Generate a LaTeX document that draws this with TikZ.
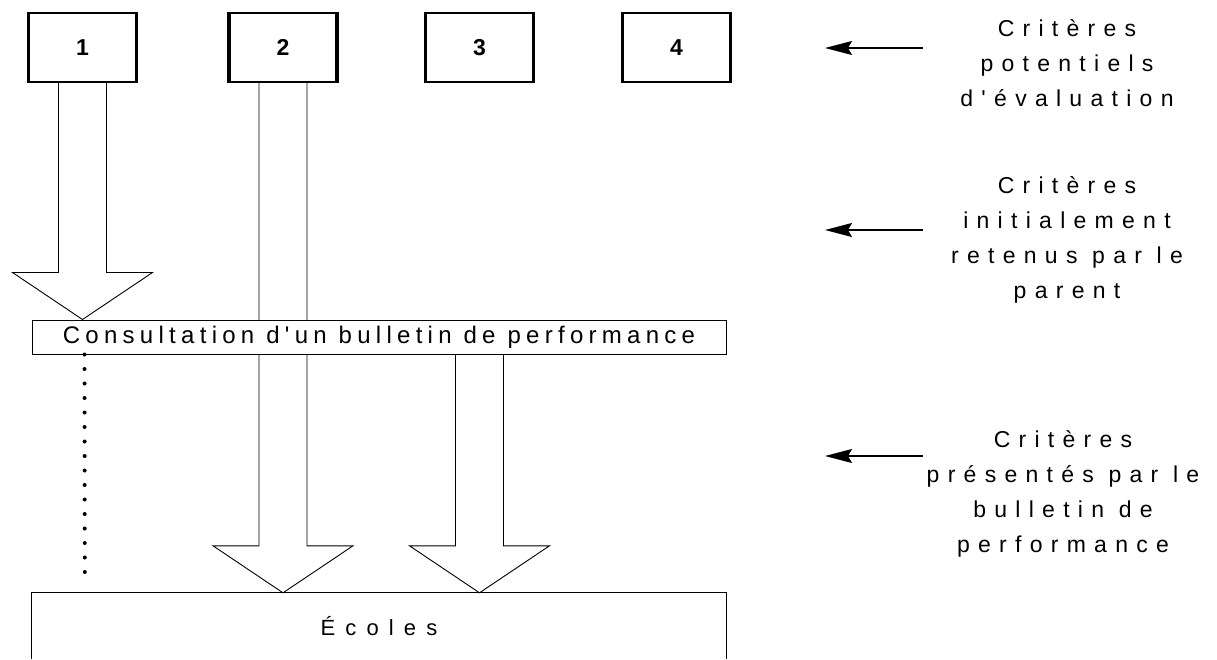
\documentclass[tikz,border=0pt]{standalone}
\usepackage{fontspec}
\setmainfont{Liberation Sans}
\newfontfamily\lblfont[LetterSpace=36]{Liberation Sans}
\newfontfamily\consfont[LetterSpace=22]{Liberation Sans}
\newfontfamily\ecfont[LetterSpace=46]{Liberation Sans}
\usetikzlibrary{arrows.meta,calc}
\newcommand\blockarr[2]{%
  \draw[blockline] let \p1=(#1), \p2=(#2) in
    (\x1-24pt,\y1) -- (\x1-24pt,\y2+47pt) -- (\x1-70pt,\y2+47pt) -- (\x2,\y2)
    -- (\x1+70pt,\y2+47pt) -- (\x1+24pt,\y2+47pt) -- (\x1+24pt,\y1);}
\begin{document}
\begin{tikzpicture}[x=1pt,y=-1pt,
  numbox/.style={draw, line width=1.1pt, minimum width=107pt, minimum height=69pt,
    inner sep=0pt, font=\fontsize{23}{23}\selectfont\bfseries},
  thickside/.style={line width=3.5pt},
  blockline/.style={line width=0.9pt, line join=miter},
  consbox/.style={draw, fill=white, line width=1pt, minimum width=694pt, minimum height=34pt,
    inner sep=0pt, text height=17pt, text depth=4pt, font=\consfont\fontsize{24}{24}\selectfont},
  ecbox/.style={minimum width=694pt, minimum height=66pt, inner sep=0pt,
    font=\ecfont\fontsize{22}{22}\selectfont},
  lbl/.style={align=center, inner sep=0pt, anchor=north,
    font=\lblfont\fontsize{23}{35}\selectfont},
  ptr/.style={line width=1.6pt, -{Stealth[length=27pt,width=14pt,inset=4pt]}},
  dotline/.style={line width=4pt, line cap=round, dash pattern=on 0pt off 14.5pt}
]
\useasboundingbox (0,0) rectangle (1217,659);

% top boxes
\node[numbox] (b1) at (82.5,47.5) {1};
\node[numbox] (b2) at (283,47.5) {2};
\node[numbox] (b3) at (479.5,47.5) {3};
\node[numbox] (b4) at (676.5,47.5) {4};
\foreach \b in {b1,b2,b3,b4}{
  \draw[thickside] (\b.north west) -- (\b.south west);
  \draw[thickside] (\b.north east) -- (\b.south east);
}

% Ecoles box (open at the bottom)
\node[ecbox] (ec) at (379,626) {Écoles};
\draw[line width=1pt] (ec.south west) -- (ec.north west) -- (ec.north east) -- (ec.south east);

% arrow 2 runs behind the consultation box
\coordinate (t2) at (b2.south |- ec.north);
\blockarr{b2.south}{t2}

% consultation box
\node[consbox] (cons) at (379,337) {Consultation d'un bulletin de performance};

% arrow 1
\coordinate (t1) at (b1.south |- cons.north);
\blockarr{b1.south}{t1}

% arrow 3
\coordinate (s3) at (b3.south |- cons.south);
\coordinate (t3) at (b3.south |- ec.north);
\blockarr{s3}{t3}

% dotted line
\draw[dotline] ($(cons.south west)+(53,0)$) -- ($(ec.north west)+(53,-7)$);

% right-hand labels and pointers
\node[lbl] (l1) at (1067,19) {Critères\\potentiels\\d'évaluation};
\node[lbl] (l2) at (1067,176) {Critères\\initialement\\retenus par le\\parent};
\node[lbl] (l3) at (1063,430) {Critères\\présentés par le\\bulletin de\\performance};
\coordinate (p1s) at (923,48);  \coordinate (p1e) at (825,48);
\coordinate (p2s) at (923,230); \coordinate (p2e) at (825,230);
\coordinate (p3s) at (923,456); \coordinate (p3e) at (825,456);
\draw[ptr] (p1s) -- (p1e);
\draw[ptr] (p2s) -- (p2e);
\draw[ptr] (p3s) -- (p3e);
\end{tikzpicture}
\end{document}
